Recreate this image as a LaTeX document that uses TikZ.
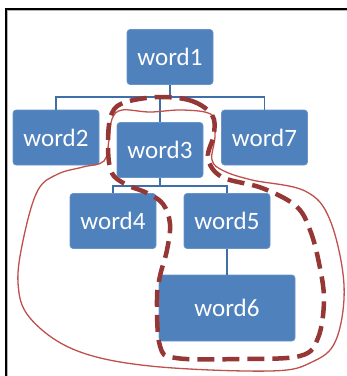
\documentclass[tikz,border=0pt]{standalone}
\usepackage{fontspec}
\setmainfont{Carlito}
\definecolor{boxblue}{HTML}{4F81BD}
\definecolor{lineblue}{HTML}{3F6FAA}
\definecolor{thinred}{HTML}{C0504D}
\definecolor{darkred}{HTML}{953735}
\begin{document}
\begin{tikzpicture}[x=1pt,y=-1pt,
  box/.style={draw=boxblue!85!white, line width=0.6pt, fill=boxblue, rounded corners=3pt,
    text=white, font=\fontsize{25}{30}\selectfont, inner sep=0pt,
    minimum width=86pt, minimum height=55pt},
  conn/.style={draw=lineblue, line width=1.4pt},
  thinloop/.style={draw=thinred, line width=1.3pt},
  dashloop/.style={draw=darkred, line width=4.5pt, dash pattern=on 17pt off 8pt}]
\useasboundingbox (0,0) rectangle (347,376);
\fill[white] (0,0) rectangle (347,376);
% frame
\draw[gray!60, line width=1pt] (7.3,376) -- (7.3,10.8) -- (347,10.8);
\draw[black, line width=1.5pt] (5.8,376) -- (5.8,9.2) -- (347,9.2);
% nodes
\node[box] (w1) at (170,57) {word1};
\node[box] (w2) at (56,137.5) {word2};
\node[box] (w3) at (160,150) {word3};
\node[box] (w7) at (264.5,137.5) {word7};
\node[box] (w4) at (113,221) {word4};
\node[box] (w5) at (227,221) {word5};
\node[box, minimum width=136pt, minimum height=66pt] (w6) at (227,308) {word6};
% connectors
\coordinate (b1) at (170,97);
\coordinate (b2) at (160,186);
\draw[conn] (w1.south) -- (b1);
\draw[conn] (w2.north) |- (b1) -| (w7.north);
\draw[conn] (w3.north) -- (w3.north |- b1);
\draw[conn] (w3.south) -- (b2);
\draw[conn] (w4.north) |- (b2) -| (w5.north);
\draw[conn] (w5.south) -- (w6.north);
% thin red loop
\draw[thinloop] plot[smooth cycle, tension=0.6] coordinates {
  (18,283) (24,236) (38,190) (58,174) (83,167) (104,161) (109,140) (112,119)
  (122,110) (150,112) (183,110) (212,115) (215,136) (212,160)
  (224,171) (252,180) (305,191) (330,220) (344,285) (336,340) (312,362)
  (270,371) (150,366) (75,350) (30,318)};
% dashed loop
\draw[dashloop] plot[smooth cycle, tension=0.6] coordinates {
  (160,97) (192,101) (212,115) (214,134) (208,158) (222,177) (262,188)
  (296,206) (310,230) (319,263) (324,300) (318,338) (300,356) (240,359)
  (176,358) (160,346) (157,300) (160,276) (167,250) (170,224) (163,204)
  (147,193) (125,184) (111,171) (108,140) (112,113) (126,102)};
\end{tikzpicture}
\end{document}
